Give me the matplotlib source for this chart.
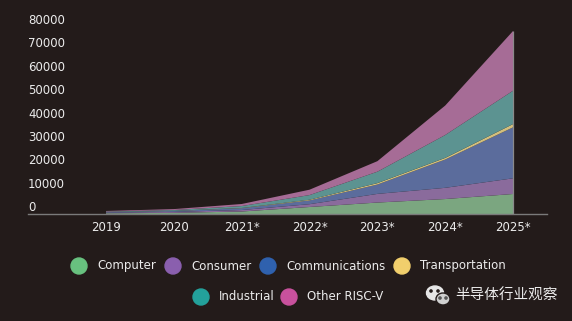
import matplotlib
matplotlib.use("Agg")
import matplotlib.pyplot as plt
from matplotlib.patches import Ellipse
from matplotlib import transforms

# data (units, stacked)
years = [2019, 2020, 2021, 2022, 2023, 2024, 2025]
year_labels = ["2019", "2020", "2021*", "2022*", "2023*", "2024*", "2025*"]
computer = [300, 500, 1070, 3000, 4900, 6400, 8560]
consumer = [250, 400, 630, 1200, 3700, 4800, 6710]
communications = [250, 400, 780, 1600, 4000, 12100, 21810]
transportation = [30, 50, 90, 300, 600, 700, 1400]
industrial = [220, 350, 830, 2000, 4900, 9800, 14270]
other_riscv = [250, 400, 880, 2300, 4500, 12600, 25550]

series_names = ["Computer", "Consumer", "Communications", "Transportation",
                "Industrial", "Other RISC-V"]
y_ticks = [0, 10000, 20000, 30000, 40000, 50000, 60000, 70000, 80000]

area_colors = ["#7ba680", "#8a6b9c", "#5b6c9c", "#d2be7c", "#5c9391", "#a66c96"]
dot_colors = ["#68c17f", "#8a5fae", "#2f61ae", "#f1cf6c", "#23a19b", "#c8519d"]
bg = "#231b1a"
text_color = "#ececec"

fig = plt.figure(figsize=(5.72, 3.21), dpi=100, facecolor=bg)
ax = fig.add_axes([28 / 572, 107 / 321, 519 / 572, 187 / 321])
ax.set_facecolor(bg)

series = [computer, consumer, communications, transportation, industrial, other_riscv]
ax.stackplot(years, *series, colors=area_colors, linewidth=0)
totals = [sum(v) for v in zip(*series)]
ax.vlines(years[-1], 0, totals[-1], color="#8a8a8a", lw=0.9)

ax.set_xlim(2017.85, 2025.5)
ax.set_ylim(0, 80000)

for s in ["top", "right", "left"]:
    ax.spines[s].set_visible(False)
ax.spines["bottom"].set_color("#7a7a7a")
ax.spines["bottom"].set_linewidth(1)

ax.set_yticks([])
offset = transforms.offset_copy(ax.get_yaxis_transform(), fig=fig, x=0, y=0, units="points")
for v in y_ticks:
    ax.text(0, v, str(v), transform=offset, ha="left", va="bottom",
            color=text_color, fontsize=8.5)

ax.set_xticks(years)
ax.set_xticklabels(year_labels, color=text_color, fontsize=8.5)
ax.tick_params(axis="x", length=0, pad=5)

# legend and watermark drawn in pixel space
ov = fig.add_axes([0, 0, 1, 1])
ov.set_xlim(0, 572)
ov.set_ylim(321, 0)
ov.axis("off")
ov.patch.set_alpha(0)

legend_pos = [(79, 266), (173, 266), (268, 266), (402, 266), (201, 297), (289, 297)]
for (x, y), name, c in zip(legend_pos, series_names, dot_colors):
    ov.add_patch(Ellipse((x, y), 16, 16, color=c))
    ov.text(x + 18, y, name, color=text_color, fontsize=8.5, va="center", ha="left")

# wechat-like icon
ov.add_patch(Ellipse((435, 293), 17, 14, color="#e6e6e6"))
ov.add_patch(Ellipse((443, 299), 14, 12, color="#d0d0d0", ec=bg, lw=1))
for ex, ey, c in [(431, 291, bg), (438, 291, bg), (440, 298, "#555"), (446, 298, "#555")]:
    ov.add_patch(Ellipse((ex, ey), 2.2, 2.2, color=c))
ov.text(455, 296, "半导体行业观察", color=text_color, fontsize=10.5, va="center", ha="left",
        family=["Noto Sans CJK SC", "DejaVu Sans"])

fig.savefig("out.png", dpi=100, facecolor=bg)
